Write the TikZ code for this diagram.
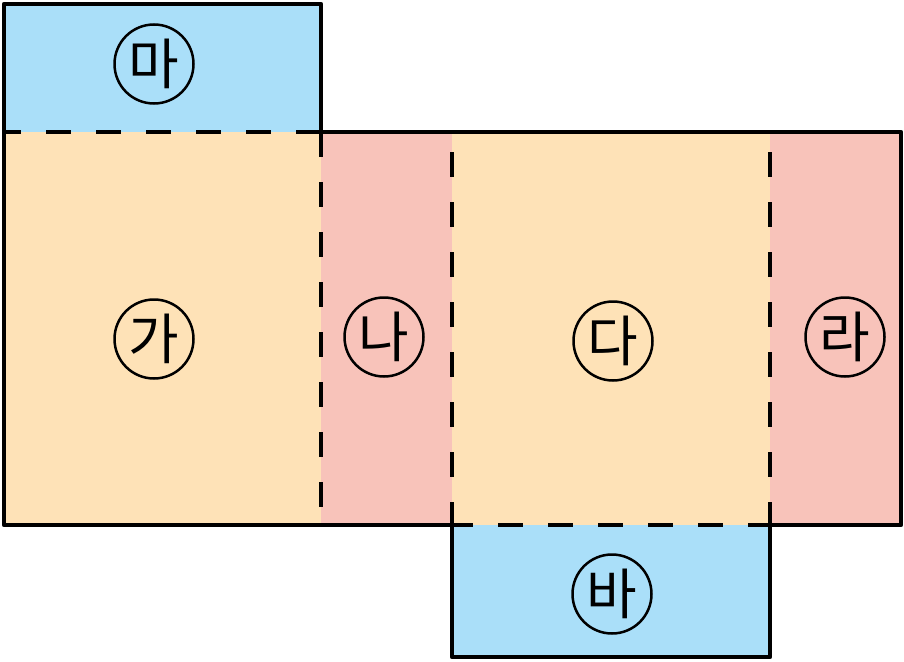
\documentclass[tikz,border=0pt]{standalone}
\usepackage{fontspec}
\newfontfamily\krfont{Noto Sans CJK KR}
\definecolor{bluef}{HTML}{AADFF9}
\definecolor{orangef}{HTML}{FEE2B7}
\definecolor{pinkf}{HTML}{F8C3BA}
\tikzset{
  outline/.style={line width=4.5pt, line join=round, line cap=round},
  fold/.style={line width=4.5pt, dash pattern=on 25pt off 25pt},
  lbl/.style={circle, draw, line width=2.5pt, minimum size=79pt, inner sep=0pt,
    font=\krfont\fontsize{55}{55}\selectfont},
}
\begin{document}
\begin{tikzpicture}[x=1pt,y=-1pt]
\useasboundingbox (0,0) rectangle (904,661);
% fills
\fill[bluef] (4,4) rectangle (321,132);
\fill[orangef] (4,132) rectangle (321,525);
\fill[pinkf] (321,132) rectangle (452,525);
\fill[orangef] (452,132) rectangle (770,525);
\fill[pinkf] (770,132) rectangle (901,525);
\fill[bluef] (452,525) rectangle (770,657);
% fold lines
\draw[fold, dash phase=8pt] (4,132) -- (321,132);
\draw[fold] (321,132) -- (321,525);
\draw[fold, dash phase=30pt] (452,132) -- (452,525);
\draw[fold, dash phase=30pt] (770,132) -- (770,525);
\draw[fold, dash phase=4pt] (452,525) -- (770,525);
% outline
\draw[outline] (4,4) -- (321,4) -- (321,132) -- (901,132) -- (901,525) -- (770,525)
  -- (770,657) -- (452,657) -- (452,525) -- (4,525) -- cycle;
% labels
\node[lbl] (ma) at (154,64) {마};
\node[lbl] (ga) at (154,339) {가};
\node[lbl] (na) at (384,337) {나};
\node[lbl] (da) at (613,341) {다};
\node[lbl] (ra) at (845,337) {라};
\node[lbl] (ba) at (612,594) {바};
\end{tikzpicture}
\end{document}
